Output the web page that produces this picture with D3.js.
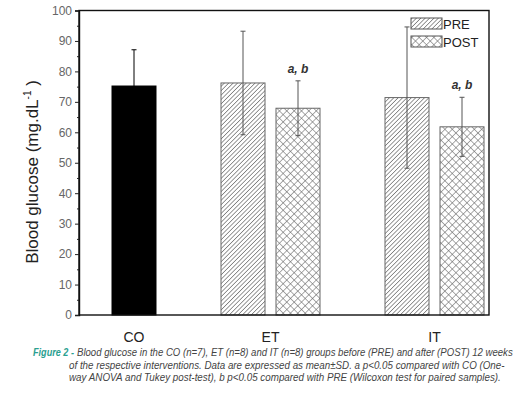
<!DOCTYPE html>
<html><head><meta charset="utf-8">
<script src="https://cdn.jsdelivr.net/npm/d3@7"></script>
<style>body{margin:0;background:#fff}svg{display:block}</style>
</head><body>
<script>
const groups = ["CO", "ET", "IT"];
const barGroup = ["CO", "ET", "ET", "IT", "IT"];
const barSeries = ["CO", "PRE", "POST", "PRE", "POST"];
const barMean = [75.2, 76.2, 67.9, 71.4, 61.8];
const barSD = [11.9, 17.0, 9.0, 23.2, 9.7];
const sigLabels = ["", "", "a, b", "", "a, b"];
const yTicks = [0, 10, 20, 30, 40, 50, 60, 70, 80, 90, 100];
const legendItems = ["PRE", "POST"];
const yTitle = "Blood glucose (mg.dL";
const captionLines = [
  "Blood glucose in the CO (n=7), ET (n=8) and IT (n=8) groups before (PRE) and after (POST) 12 weeks",
  "of the respective interventions. Data are expressed as mean±SD.  a p<0.05 compared with CO (One-",
  "way ANOVA and Tukey post-test), b p<0.05 compared with PRE (Wilcoxon test for paired samples)."
];

const FONT = "'Liberation Sans', Arial, sans-serif";
const W = 519, H = 408;
const svg = d3.select("body").append("svg").attr("width", W).attr("height", H);
const L = 79, R = 489, T = 10.5, B = 315;
const y = d3.scaleLinear().domain([0, 100]).range([B, T]);
const xc = d3.scalePoint().domain(groups).range([134, 434.5]);
const groupCenter = g => g === "ET" ? 270.5 : xc(g);
const barW = 44;
function barX(i) {
  const s = barSeries[i];
  const c = groupCenter(barGroup[i]);
  if (s === "CO") return c - barW / 2;
  if (s === "PRE") return c - 5.5 - barW;
  return c + 5.5;
}

const defs = svg.append("defs");
const pre = defs.append("pattern").attr("id", "pre").attr("patternUnits", "userSpaceOnUse")
  .attr("width", 3.1).attr("height", 3.1).attr("patternTransform", "rotate(45)");
pre.append("rect").attr("width", 3.1).attr("height", 3.1).attr("fill", "#fff");
pre.append("line").attr("x1", 0).attr("y1", 0).attr("x2", 0).attr("y2", 3.1)
  .attr("stroke", "#555").attr("stroke-width", 1.2);
const post = defs.append("pattern").attr("id", "post").attr("patternUnits", "userSpaceOnUse")
  .attr("width", 5.2).attr("height", 5.2).attr("patternTransform", "rotate(45)");
post.append("rect").attr("width", 5.2).attr("height", 5.2).attr("fill", "#fff");
post.append("line").attr("x1", 0).attr("y1", 0).attr("x2", 0).attr("y2", 5.2).attr("stroke", "#666").attr("stroke-width", 1.1);
post.append("line").attr("x1", 0).attr("y1", 0).attr("x2", 5.2).attr("y2", 0).attr("stroke", "#666").attr("stroke-width", 1.1);

const fillFor = s => s === "CO" ? "#000" : (s === "PRE" ? "url(#pre)" : "url(#post)");

barMean.forEach((m, i) => {
  svg.append("rect").attr("x", barX(i)).attr("y", y(m)).attr("width", barW).attr("height", B - y(m))
    .attr("fill", fillFor(barSeries[i]))
    .attr("stroke", barSeries[i] === "CO" ? "#000" : "#666").attr("stroke-width", 1);
});
barMean.forEach((m, i) => {
  const cx = barX(i) + barW / 2;
  const col = barSeries[i] === "CO" ? "#000" : "#555";
  const g = svg.append("g").attr("stroke", col).attr("stroke-width", 1);
  g.append("line").attr("x1", cx).attr("x2", cx).attr("y1", y(m + barSD[i])).attr("y2", y(m - barSD[i]));
  g.append("line").attr("x1", cx - 2.5).attr("x2", cx + 2.5).attr("y1", y(m + barSD[i])).attr("y2", y(m + barSD[i]));
  g.append("line").attr("x1", cx - 2.5).attr("x2", cx + 2.5).attr("y1", y(m - barSD[i])).attr("y2", y(m - barSD[i]));
  if (sigLabels[i]) {
    svg.append("text").attr("x", cx).attr("y", y(m + barSD[i]) - 8).attr("text-anchor", "middle")
      .attr("font-family", FONT).attr("font-size", 12)
      .attr("font-weight", "bold").attr("font-style", "italic").attr("fill", "#333").text(sigLabels[i]);
  }
});

svg.append("rect").attr("x", L).attr("y", T).attr("width", R - L).attr("height", B - T)
  .attr("fill", "none").attr("stroke", "#111").attr("stroke-width", 1.4);

const yAxis = d3.axisLeft(y).tickValues(yTicks).tickSize(4).tickPadding(3).tickFormat(d3.format("d"));
const ya = svg.append("g").attr("transform", `translate(${L},0)`).call(yAxis);
ya.select(".domain").attr("stroke", "#111").attr("stroke-width", 1.4);
ya.selectAll(".tick line").attr("stroke", "#222");
ya.selectAll("text").attr("font-family", FONT).attr("font-size", 12).attr("fill", "#666");
const yMinor = d3.axisLeft(y).tickValues(d3.range(5, 100, 10)).tickSize(2).tickFormat("");
const ym = svg.append("g").attr("transform", `translate(${L},0)`).call(yMinor);
ym.select(".domain").remove();
ym.selectAll(".tick line").attr("stroke", "#222");

const xAxis = d3.axisBottom(xc).tickSize(0).tickPadding(17);
const xa = svg.append("g").attr("transform", `translate(0,${B})`).call(xAxis);
xa.select(".domain").remove();
xa.selectAll(".tick").attr("transform", d => `translate(${groupCenter(d)},0)`);
xa.selectAll("text").attr("font-family", FONT).attr("font-size", 14).attr("fill", "#222");

const yt = svg.append("text").attr("transform", "translate(38,172) rotate(-90)").attr("text-anchor", "middle")
  .attr("font-family", FONT).attr("font-size", 17).attr("fill", "#222");
yt.append("tspan").text(yTitle);
yt.append("tspan").attr("font-size", 10).attr("dy", -7).text("-1");
yt.append("tspan").attr("dy", 7).text(" )");

legendItems.forEach((s, i) => {
  const ly = 18 + i * 18;
  svg.append("rect").attr("x", 411).attr("y", ly).attr("width", 31).attr("height", 11)
    .attr("fill", fillFor(s)).attr("stroke", "#555").attr("stroke-width", 1);
  svg.append("text").attr("x", 443).attr("y", ly + 10.5).attr("font-family", FONT)
    .attr("font-size", 13).attr("fill", "#222").text(s);
});

const cap = svg.append("g").attr("font-family", FONT)
  .attr("font-style", "italic").attr("font-size", 11.5).attr("fill", "#444");
function fitText(sel, x, yy, target) {
  const n = sel.node().getComputedTextLength();
  sel.attr("transform", `translate(${x},${yy}) scale(${target / n},1)`);
}
const fig = cap.append("text").attr("fill", "#2aa090").attr("font-weight", "bold").text("Figure 2 -");
fitText(fig, 33, 356, 41);
captionLines.forEach((t, i) => {
  const tx = cap.append("text").text(t);
  fitText(tx, i === 0 ? 77 : 69, 356 + i * 12.5, i === 0 ? 436 : (i === 1 ? 436 : 432));
});
</script>
</body></html>
